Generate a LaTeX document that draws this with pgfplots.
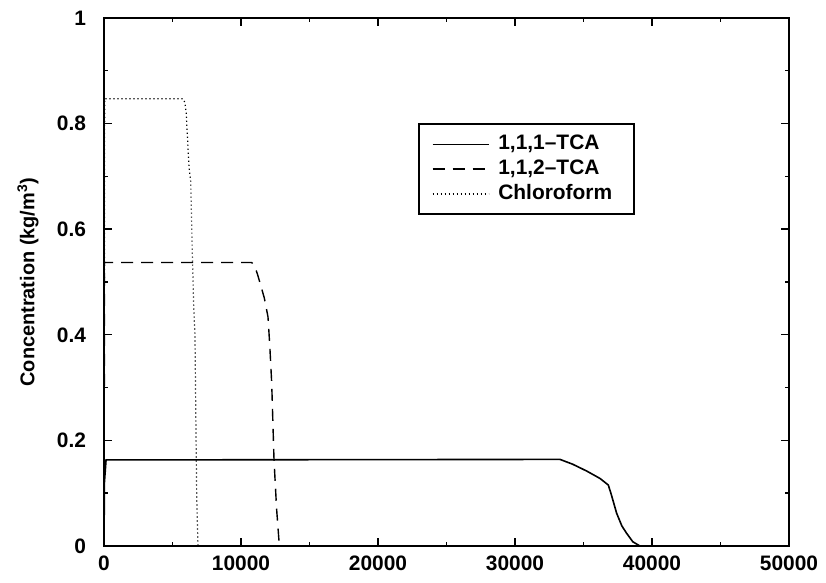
\documentclass[border=0pt]{standalone}
\usepackage{fontspec}
\setmainfont{Liberation Sans}
\usepackage{pgfplots}
\pgfplotsset{compat=1.18}
\begin{document}
\begin{tikzpicture}
\path[use as bounding box] (-52bp,-18.5bp) rectangle (361bp,273bp);
\begin{axis}[
  scale only axis,
  width=342.5bp, height=264bp,
  at={(0,0)}, anchor=south west,
  xmin=0, xmax=50000, ymin=0, ymax=1,
  xtick={0,10000,20000,30000,40000,50000},
  xticklabels={0,10000,20000,30000,40000,50000},
  ytick={0,0.2,0.4,0.6,0.8,1},
  yticklabels={0,0.2,0.4,0.6,0.8,1},
  minor x tick num=1, minor y tick num=1,
  major tick length=4bp, minor tick length=2bp,
  tick style={line width=0.7bp, black},
  axis line style={line width=1bp},
  scaled x ticks=false,
  tick label style={font=\fontsize{10.5}{11}\selectfont\bfseries},
  /pgf/number format/assume math mode=true,
  xticklabel style={yshift=-1.5bp},
  yticklabel style={xshift=-5.5bp},
  ylabel={Concentration (kg/m\textsuperscript{3})},
  ylabel style={at={([xshift=-38bp]rel axis cs:0,0.5)}, anchor=center, font=\fontsize{10}{11}\selectfont\bfseries},
  legend cell align=left,
  legend style={at={(rel axis cs:0.4584,0.801)}, anchor=north west,
    draw=black, line width=0.8bp, font=\fontsize{10.5}{11}\selectfont\bfseries,
    inner xsep=6.5bp, inner ysep=4bp, row sep=0bp,
    nodes={text height=7.6bp, text depth=2bp, inner ysep=1.4bp, inner xsep=4.5bp}},
  legend image code/.code={\draw[#1, line width=0.75bp] (0bp,0bp) -- (28bp,0bp);},
]
\addplot[black, line width=0.8bp] coordinates {
(0,0) (30,0.12) (150,0.163) (33285,0.164) (34200,0.155) (35230,0.142) (36200,0.128) (36810,0.1155) (37000,0.1) (37420,0.062) (37800,0.038) (38150,0.024) (38600,0.008) (39120,0)
};
\addlegendentry{1,1,1--TCA}
\addplot[black, line width=0.7bp, dash pattern=on 6bp off 4bp] coordinates {
(0,0) (40,0.537) (10780,0.537) (11000,0.53) (11200,0.515) (11390,0.498) (11700,0.47) (11970,0.434) (12100,0.38) (12240,0.309) (12410,0.163) (12600,0.07) (12800,0)
};
\addlegendentry{1,1,2--TCA}
\addplot[black, line width=0.6bp, dash pattern=on 0.6bp off 1.4bp] coordinates {
(0,0) (50,0.847) (5770,0.847) (5900,0.84) (6000,0.82) (6100,0.77) (6200,0.72) (6330,0.69) (6450,0.55) (6550,0.45) (6640,0.40) (6700,0.25) (6770,0.09) (6860,0)
};
\addlegendentry{Chloroform}
\end{axis}
\end{tikzpicture}
\end{document}
